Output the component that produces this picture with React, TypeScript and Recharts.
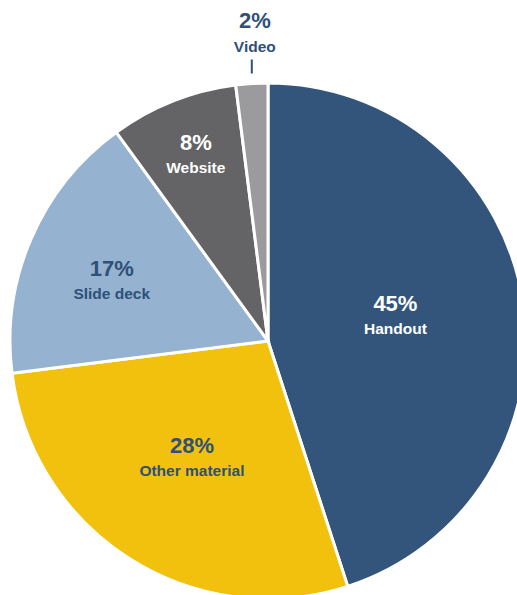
import React from "react";
import { PieChart, Pie, Cell } from "recharts";

const categories = ["Handout", "Other material", "Slide deck", "Website", "Video"];
const values = [45, 28, 17, 8, 2];
const percentLabels = ["45%", "28%", "17%", "8%", "2%"];

const colors = ["#34557B", "#F2C10E", "#95B2D1", "#646466", "#9B9B9E"];
const labelColors = ["#FFFFFF", "#2F5078", "#2F5078", "#FFFFFF", "#2F5078"];
const labelRadiusFactors = [0.5, 0.55, 0.66, 0.76, 1.2];
const labelYShift = [-1, 1, 12, 0, 0];

const data = categories.map((name, i) => ({ name, value: values[i], pct: percentLabels[i] }));

const RAD = Math.PI / 180;
const FONT = "Liberation Sans, Arial, sans-serif";

const renderLabel = (props: any) => {
  const { cx, cy, midAngle, outerRadius, index } = props;
  const cos = Math.cos(-midAngle * RAD);
  const sin = Math.sin(-midAngle * RAD);
  const fill = labelColors[index];
  if (index === 4) {
    const x0 = cx + outerRadius * cos;
    const y0 = cy + outerRadius * sin;
    const tx = x0 + 3;
    return (
      <g>
        <line x1={x0} y1={y0 - 10} x2={x0} y2={y0 - 24} stroke={fill} strokeWidth={2} />
        <text x={tx} y={y0 - 56} textAnchor="middle" fill={fill} fontFamily={FONT} fontWeight="bold" fontSize={22}>
          {data[index].pct}
        </text>
        <text x={tx} y={y0 - 32} textAnchor="middle" fill={fill} fontFamily={FONT} fontWeight="bold" fontSize={15.5}>
          {data[index].name}
        </text>
      </g>
    );
  }
  const r = outerRadius * labelRadiusFactors[index];
  const x = cx + r * cos;
  const y = cy + r * sin + labelYShift[index];
  return (
    <g>
      <text x={x} y={y - 9} textAnchor="middle" fill={fill} fontFamily={FONT} fontWeight="bold" fontSize={22}>
        {data[index].pct}
      </text>
      <text x={x} y={y + 14} textAnchor="middle" fill={fill} fontFamily={FONT} fontWeight="bold" fontSize={15.5}>
        {data[index].name}
      </text>
    </g>
  );
};

export default function App() {
  return (
    <div style={{ position: "fixed", left: 0, top: 0, width: 517, height: 595, background: "#fff", overflow: "hidden" }}>
      <PieChart width={517} height={595} margin={{ top: 0, right: 0, bottom: 0, left: 0 }}>
        <Pie
          data={data}
          dataKey="value"
          nameKey="name"
          cx={268}
          cy={341}
          outerRadius={258}
          startAngle={90}
          endAngle={-270}
          stroke="#FFFFFF"
          strokeWidth={3}
          label={renderLabel}
          labelLine={false}
          isAnimationActive={false}
        >
          {data.map((d, i) => (
            <Cell key={d.name} fill={colors[i]} />
          ))}
        </Pie>
      </PieChart>
    </div>
  );
}
